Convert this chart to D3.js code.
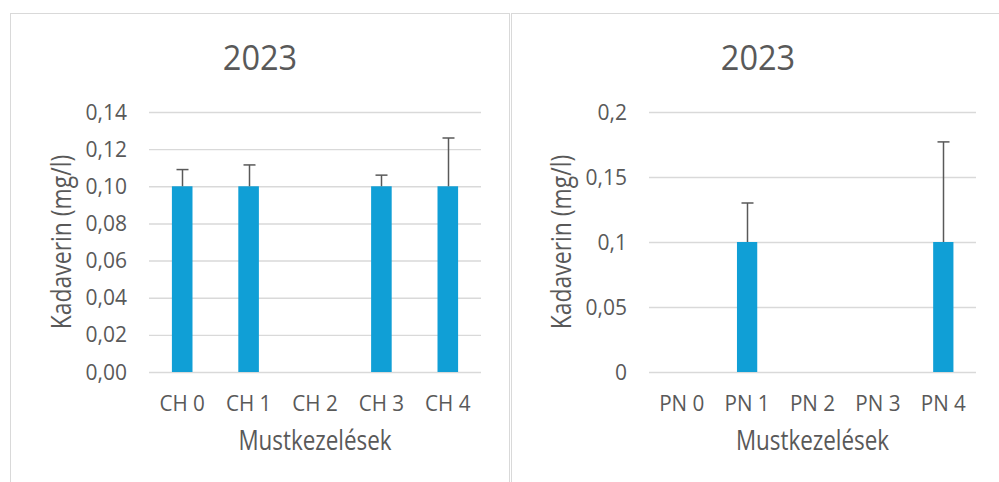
<!DOCTYPE html>
<html><head><meta charset="utf-8">
<script src="https://cdn.jsdelivr.net/npm/d3@7"></script>
<style>body{margin:0;background:#fff;} svg{display:block;} text{font-family:"Open Sans",sans-serif;fill:#595959;}</style>
</head><body>
<script>
const title = "2023";
const yTitle = "Kadaverin (mg/l)";
const xTitle = "Mustkezelések";
const chCategories = ["CH 0","CH 1","CH 2","CH 3","CH 4"];
const chValues = [0.1, 0.1, 0, 0.1, 0.1];
const chErrors = [0.009, 0.0115, 0, 0.006, 0.026];
const chTicks = [0, 0.02, 0.04, 0.06, 0.08, 0.10, 0.12, 0.14];
const pnCategories = ["PN 0","PN 1","PN 2","PN 3","PN 4"];
const pnValues = [0, 0.1, 0, 0, 0.1];
const pnErrors = [0, 0.03, 0, 0, 0.077];
const pnTicks = [0, 0.05, 0.1, 0.15, 0.2];

const W = 999, H = 482;
const svg = d3.select("body").append("svg").attr("width", W).attr("height", H);

// panel borders
svg.append("rect").attr("x",10.5).attr("y",13.5).attr("width",499).attr("height",500)
  .attr("fill","none").attr("stroke","#d9d9d9");
svg.append("rect").attr("x",511.5).attr("y",13.5).attr("width",500).attr("height",500)
  .attr("fill","none").attr("stroke","#d9d9d9");

function txt(g, s, x, y, size, sx, anchor, rot){
  return g.append("text")
    .attr("transform", `translate(${x},${y}) rotate(${rot||0}) scale(${sx},1)`)
    .attr("text-anchor", anchor).style("font-size", size+"px").text(s);
}

function panel(cfg){
  const g = svg.append("g");
  const x = d3.scaleBand().domain(cfg.cats).range([cfg.x0, cfg.x1]).paddingInner(0.69).paddingOuter(0.345);
  const y = d3.scaleLinear().domain([0, cfg.max]).range([372, 112]);
  // gridlines
  const ga = g.append("g").attr("transform",`translate(${cfg.x0},0)`)
    .call(d3.axisLeft(y).tickValues(cfg.ticks).tickSize(-(cfg.x1-cfg.x0)).tickFormat(""));
  ga.select(".domain").remove();
  ga.selectAll(".tick line").attr("stroke","#d9d9d9").attr("stroke-width",1.4);
  // y tick labels
  cfg.ticks.forEach(t => {
    txt(g, cfg.fmt(t), cfg.x0-22, y(t)+7.5, 21, 1, "end");
  });
  // bars
  g.selectAll("rect.bar").data(cfg.vals).join("rect").attr("class","bar")
    .attr("x",(d,i)=>x(cfg.cats[i])).attr("width",x.bandwidth())
    .attr("y",d=>y(d)).attr("height",d=>y(0)-y(d)).attr("fill","#109fd6");
  // error bars
  cfg.vals.forEach((v,i)=>{
    if(!v) return;
    const cx = Math.round(x(cfg.cats[i]) + x.bandwidth()/2)+0.5;
    const top = y(v + cfg.errs[i]);
    g.append("line").attr("x1",cx).attr("x2",cx).attr("y1",y(v)).attr("y2",top)
      .attr("stroke","#595959").attr("stroke-width",1.5);
    g.append("line").attr("x1",cx-6).attr("x2",cx+6).attr("y1",top).attr("y2",top)
      .attr("stroke","#595959").attr("stroke-width",1.5);
  });
  // x tick labels
  cfg.cats.forEach(c => {
    txt(g, c, x(c)+x.bandwidth()/2, 410.5, 21.5, 0.96, "middle");
  });
  // titles
  txt(g, title, cfg.tx, 70, 35, 0.93, "middle");
  txt(g, yTitle, cfg.yx, 242, 27, 0.85, "middle", -90);
  txt(g, xTitle, (cfg.x0+cfg.x1)/2, 449.5, 27, 0.83, "middle");
}

const fmt2 = d => d3.format(".2f")(d).replace(".",",");
const fmtG = d => String(d).replace(".",",");
panel({cats:chCategories, vals:chValues, errs:chErrors, ticks:chTicks, max:0.14, x0:149, x1:481, fmt:fmt2, tx:260, yx:71});
panel({cats:pnCategories, vals:pnValues, errs:pnErrors, ticks:pnTicks, max:0.2, x0:649, x1:976, fmt:fmtG, tx:758, yx:571});
</script>
</body></html>
